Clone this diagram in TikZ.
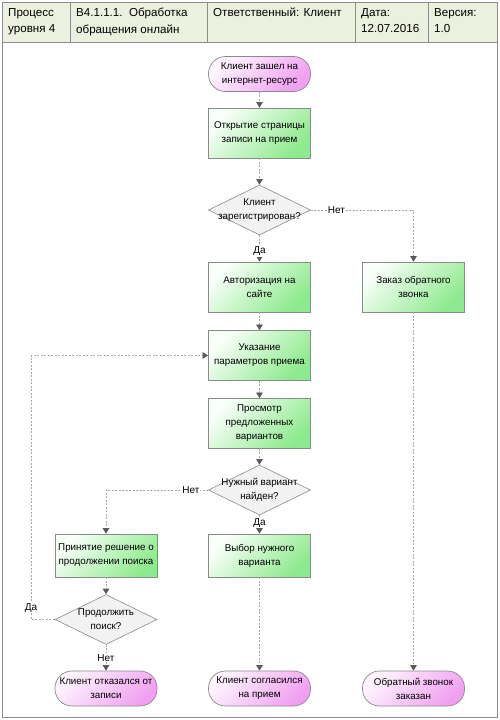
\documentclass[tikz,border=0pt]{standalone}
\usepackage{fontspec}
\setmainfont{Liberation Sans}
\usetikzlibrary{shapes.geometric,arrows.meta}
\definecolor{hdrfill}{HTML}{EBF1DE}
\definecolor{frameline}{HTML}{8C8C8C}
\definecolor{boxline}{HTML}{8A8A8A}
\definecolor{grnlight}{HTML}{F8FFF8}
\definecolor{grnmid}{HTML}{BDF5BD}
\definecolor{grndark}{HTML}{8EEA8E}
\definecolor{pnklight}{HTML}{FFF4FF}
\definecolor{pnkmid}{HTML}{F8CCF8}
\definecolor{pnkdark}{HTML}{F0A0F0}
\definecolor{decfill}{HTML}{F2F2F2}
\definecolor{conn}{HTML}{A6A6A6}
\definecolor{tipc}{HTML}{5A5A5A}
\tikzset{
  x=1pt, y=-1pt,
  every node/.style={font=\fontsize{9.8}{14}\selectfont, align=center},
  hdr/.style={anchor=north west, align=left, inner sep=0pt, font=\fontsize{11.6}{16.5}\selectfont},
  procbox/.style={draw=boxline, line width=0.7pt, minimum width=102pt, minimum height=50pt, inner sep=1pt,
     left color=grnlight, middle color=grnmid, right color=grndark, shading angle=45},
  termbox/.style={draw=boxline, line width=0.7pt, minimum width=102pt, minimum height=35pt, inner sep=1pt,
     rounded corners=17pt, left color=pnklight, middle color=pnkmid, right color=pnkdark, shading angle=45},
  decbox/.style={draw=boxline, line width=0.6pt, shape=diamond, fill=decfill, minimum width=102pt, minimum height=50pt, inner sep=0pt},
  dectext/.style={inner sep=0pt},
  conn/.style={draw=conn, line width=0.6pt, dash pattern=on 2pt off 1.5pt,
     -{Triangle[width=6.5pt,length=5.5pt,color=tipc]}},
  lbl/.style={fill=white, inner sep=1pt, font=\fontsize{10}{12}\selectfont},
}
\begin{document}
\begin{tikzpicture}
\useasboundingbox (0,0) rectangle (500,720);
% frame and header
\fill[white] (2.5,2.5) rectangle (497.5,717.5);
\fill[hdrfill] (2.5,2.5) rectangle (497.5,42);
\draw[frameline, line width=0.9pt] (2.5,2.5) rectangle (497.5,717.5);
\draw[frameline, line width=0.9pt] (2.5,42) -- (497.5,42);
\foreach \xx in {70,207,355,428} \draw[frameline, line width=0.9pt] (\xx,2.5) -- (\xx,42);
\node[hdr] (h1) at (8,8) {Процесс\\уровня 4};
\node[hdr] (h2) at (76,8) {B4.1.1.1.\ \ Обработка\\обращения онлайн};
\node[hdr] (h3) at (213,8) {Ответственный: Клиент};
\node[hdr] (h4) at (361,8) {Дата:\\12.07.2016};
\node[hdr] (h5) at (434,8) {Версия:\\1.0};

% nodes
\node[termbox] (s) at (259.5,74) {Клиент зашел на\\интернет-ресурс};
\node[procbox] (b1) at (259.5,133) {Открытие страницы\\записи на прием};
\node[decbox] (d1) at (259.5,210) {};
\node[dectext] (d1t) at (d1) {Клиент\\зарегистрирован?};
\node[procbox] (b2) at (259.5,287) {Авторизация на\\сайте};
\node[procbox] (b3) at (413.5,287) {Заказ обратного\\звонка};
\node[procbox] (b4) at (259.5,355.5) {Указание\\параметров приема};
\node[procbox] (b5) at (259.5,423.5) {Просмотр\\предложенных\\вариантов};
\node[decbox] (d2) at (259.5,490) {};
\node[dectext] (d2t) at (d2) {Нужный вариант\\найден?};
\node[procbox, minimum height=43pt] (b6) at (259.5,555.5) {Выбор нужного\\варианта};
\node[procbox, minimum height=43pt] (b7) at (106,555.5) {Принятие решение о\\продолжении поиска};
\node[decbox] (d3) at (106,619.5) {};
\node[dectext] (d3t) at (d3) {Продолжить\\поиск?};
\node[termbox] (e1) at (106,688.5) {Клиент отказался от\\записи};
\node[termbox] (e2) at (259.5,688.5) {Клиент согласился\\на прием};
\node[termbox] (e3) at (413.5,688.5) {Обратный звонок\\заказан};

\coordinate (lp) at (31,619.5);

% connectors
\draw[conn] (s) -- (b1);
\draw[conn] (b1) -- (d1);
\draw[conn] (d1) -- node[lbl, pos=0.6] (l1) {Да} (b2);
\draw[conn] (d1.east) -| node[lbl, pos=0.125] (l2) {Нет} (b3.north);
\draw[conn] (b2) -- (b4);
\draw[conn] (b4) -- (b5);
\draw[conn] (b5) -- (d2);
\draw[conn] (d2) -- node[lbl, pos=0.4] (l3) {Да} (b6);
\draw[conn] (d2.west) -| node[lbl, pos=0.085] (l4) {Нет} (b7.north);
\draw[conn] (b7) -- (d3);
\draw[conn] (d3) -- node[lbl, pos=0.5] (l5) {Нет} (e1);
\draw[conn] (d3.west) -- (lp) |- node[lbl, pos=0.022] (l6) {Да} (b4.west);
\draw[conn] (b6) -- (e2);
\draw[conn] (b3) -- (e3);
\end{tikzpicture}
\end{document}
